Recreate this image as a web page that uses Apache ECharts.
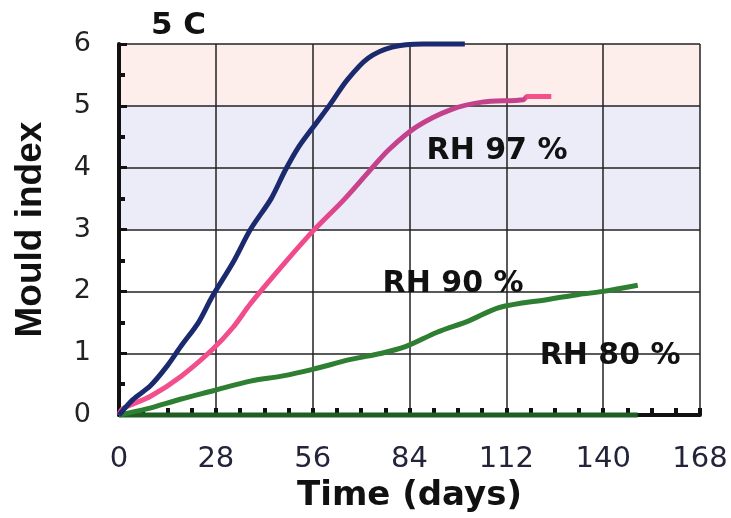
<!DOCTYPE html>
<html>
<head>
<meta charset="utf-8">
<script src="https://cdn.jsdelivr.net/npm/echarts@6/dist/echarts.min.js"></script>
<style>
  html, body { margin: 0; padding: 0; background: #fff; }
  #chart { width: 731px; height: 518px; }
</style>
</head>
<body>
<div id="chart"></div>
<script>
// Mould index growth at 5 °C for four relative humidity levels
const xTicks = [0, 28, 56, 84, 112, 140, 168];
const yTicks = [0, 1, 2, 3, 4, 5, 6];

const rh100 = [[0,0],[4,0.25],[9,0.47],[14,0.8],[18,1.12],[23,1.5],[27,1.92],[33,2.47],[38,3.0],[44,3.5],[48,3.95],[52,4.34],[57,4.72],[61,5.02],[66,5.42],[72,5.77],[79,5.95],[88,6.0],[100,6.0]];
const rh97 = [[0,0],[1,0.1],[9,0.3],[18,0.63],[27,1.06],[33,1.42],[38,1.8],[47,2.4],[56,2.97],[65,3.48],[72,3.92],[78,4.29],[86,4.66],[96,4.94],[105,5.06],[117,5.1],[118,5.15],[125,5.15]];
const rh90 = [[0,0],[8,0.1],[18,0.26],[27,0.39],[38,0.55],[47,0.63],[56,0.74],[67,0.9],[76,1.0],[83,1.11],[92,1.34],[101,1.52],[110,1.74],[124,1.87],[133,1.95],[140,2.0],[150,2.1]];
const rh80 = [[0,0],[150,0]];

// Shaded index bands (index ranges)
const bands = [
  { from: 5, to: 6, color: '#fdeeeb' },
  { from: 3, to: 5, color: '#ecebf8' }
];

// Curve captions, placed in data coordinates
const captions = [
  { text: 'RH 100 %', at: [78.7, 6.35] },
  { text: 'RH 97 %', at: [109.3, 4.26] },
  { text: 'RH 90 %', at: [96.6, 2.11] },
  { text: 'RH 80 %', at: [142, 0.95] }
];

// One fill colour per unit interval of the y axis, taken from the bands
const bandFill = yTicks.slice(0, -1).map(lo => {
  const b = bands.find(b => lo >= b.from && lo < b.to);
  return b ? b.color : 'rgba(255,255,255,0)';
});

const chart = echarts.init(document.getElementById('chart'));

const capFont = {
  fontFamily: 'DejaVu Sans', fontWeight: 'bold', fontSize: 30, color: '#111'
};

function caption(c) {
  return {
    coord: c.at,
    symbol: 'circle',
    symbolSize: 0,
    label: Object.assign({
      show: true, formatter: c.text, position: [0, 0],
      align: 'center', verticalAlign: 'middle'
    }, capFont)
  };
}

chart.setOption({
  animation: false,
  backgroundColor: '#fff',
  title: {
    text: '5 C', left: 146, top: 5,
    textStyle: { fontFamily: 'DejaVu Sans', fontWeight: 'bold', fontSize: 31, color: '#111' }
  },
  grid: { left: 119, right: 31, top: 44, bottom: 102 },
  xAxis: {
    type: 'value', min: xTicks[0], max: xTicks[xTicks.length - 1], interval: 28,
    name: 'Time (days)', nameLocation: 'middle', nameGap: 48,
    nameTextStyle: { fontFamily: 'DejaVu Sans', fontWeight: 'bold', fontSize: 34, color: '#111' },
    axisLine: { show: true, onZero: false, lineStyle: { color: '#111', width: 4 } },
    axisTick: { show: true, inside: true, length: 7, lineStyle: { color: '#111', width: 4 } },
    minorTick: { show: true, splitNumber: 4, length: 7, lineStyle: { color: '#111', width: 4 } },
    splitLine: { show: true, lineStyle: { color: '#222', width: 1.5 } },
    axisLabel: { fontFamily: 'DejaVu Sans', fontSize: 29, color: '#23233a', margin: 30 }
  },
  yAxis: {
    type: 'value', min: yTicks[0], max: yTicks[yTicks.length - 1], interval: 1,
    name: 'Mould index', nameLocation: 'middle', nameRotate: 90, nameGap: 70,
    nameTextStyle: { fontFamily: 'Liberation Sans', fontWeight: 'bold', fontSize: 37, color: '#111' },
    axisLine: { show: true, onZero: false, lineStyle: { color: '#111', width: 4 } },
    axisTick: { show: true, inside: true, length: 8, lineStyle: { color: '#111', width: 3 } },
    minorTick: { show: true, splitNumber: 2, length: 6, lineStyle: { color: '#111', width: 4 } },
    splitLine: { show: true, lineStyle: { color: '#222', width: 1.5 } },
    splitArea: { show: true, areaStyle: { color: bandFill } },
    axisLabel: { fontFamily: 'DejaVu Sans', fontSize: 27, color: '#222', margin: 28 }
  },
  series: [
    {
      name: 'RH 80 %', type: 'line', data: rh80, showSymbol: false, clip: false,
      lineStyle: { color: '#1f5e22', width: 5 }
    },
    {
      name: 'RH 90 %', type: 'line', data: rh90, showSymbol: false, smooth: 0.3, clip: false,
      lineStyle: { color: '#2e7f32', width: 5 }
    },
    {
      name: 'RH 97 %', type: 'line', data: rh97, showSymbol: false, smooth: 0.3, clip: false,
      lineStyle: {
        width: 5,
        color: new echarts.graphic.LinearGradient(0, 0, 1, 0, [
          { offset: 0, color: '#f4508c' },
          { offset: 0.45, color: '#f04a8c' },
          { offset: 0.56, color: '#c4418c' },
          { offset: 0.93, color: '#c4418c' },
          { offset: 0.94, color: '#f4508c' },
          { offset: 1, color: '#f4508c' }
        ])
      }
    },
    {
      name: 'RH 100 %', type: 'line', data: rh100, showSymbol: false, smooth: 0.3, clip: false,
      lineStyle: { color: '#1b2a6e', width: 5 },
      markPoint: { silent: true, data: captions.map(caption) }
    }
  ]
});
</script>
</body>
</html>
